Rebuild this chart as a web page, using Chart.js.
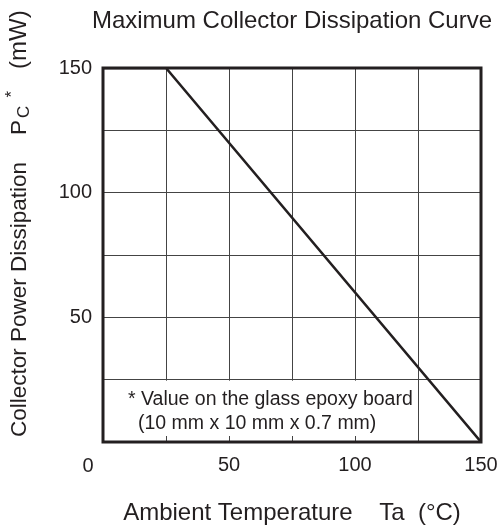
<!DOCTYPE html>
<html><head><meta charset="utf-8">
<script src="https://cdn.jsdelivr.net/npm/chart.js@4/dist/chart.umd.min.js"></script>
<style>html,body{margin:0;padding:0;background:#fff}#wrap{width:500px;height:530px}</style>
</head><body><div id="wrap"><canvas id="c" width="500" height="530"></canvas></div>
<script>
// ---- data ----
const temperature = [0, 25, 150];
const dissipation = [150, 150, 0];
const xTickLabels = [50, 100, 150];
const yTickLabels = [50, 100, 150];
const cornerLabel = '0';
const chartTitle = 'Maximum Collector Dissipation Curve';
const xTitle = 'Ambient Temperature    Ta  (°C)';
const yTitleMain = 'Collector Power Dissipation';
const yTitleSym = 'P';
const yTitleSub = 'C';
const yTitleSup = '*';
const yTitleUnit = '(mW)';
const noteLines = ['* Value on the glass epoxy board', '(10 mm x 10 mm x 0.7 mm)'];
const noteBoxX = 125, noteBoxY = 25;
const minorTicks = [25, 50, 75, 100];

const FONT = '"Liberation Sans", Arial, Helvetica, sans-serif';
const INK = '#231f20';

const deco = {
  id: 'deco',
  beforeDatasetsDraw(chart) {
    const {ctx, chartArea: a, scales: {x, y}} = chart;
    const bx = x.getPixelForValue(noteBoxX), by = y.getPixelForValue(noteBoxY);
    ctx.save();
    ctx.fillStyle = '#fff';
    ctx.fillRect(a.left, by + 1, bx - a.left - 1, a.bottom - by - 1);
    ctx.strokeStyle = '#444';
    ctx.lineWidth = 1;
    ctx.beginPath();
    minorTicks.forEach(v => {
      const px = Math.round(x.getPixelForValue(v)) + 0.5;
      ctx.moveTo(px, a.bottom);
      ctx.lineTo(px, a.bottom - 6);
    });
    ctx.stroke();
    ctx.fillStyle = INK;
    ctx.font = '19.5px ' + FONT;
    ctx.textBaseline = 'alphabetic';
    ctx.textAlign = 'left';
    ctx.fillText(noteLines[0], 128, 405);
    ctx.fillText(noteLines[1], 138, 429);
    ctx.restore();
  },
  afterDatasetsDraw(chart) {
    const {ctx, chartArea: a} = chart;
    ctx.save();
    ctx.strokeStyle = INK;
    ctx.lineWidth = 3;
    ctx.strokeRect(a.left, a.top, a.right - a.left, a.bottom - a.top);
    ctx.restore();
  },
  afterDraw(chart) {
    const {ctx} = chart;
    ctx.save();
    ctx.fillStyle = INK;
    ctx.textBaseline = 'alphabetic';
    ctx.textAlign = 'center';
    ctx.font = '24px ' + FONT;
    ctx.fillText(chartTitle, 292, 28);
    ctx.font = '24px ' + FONT;
    ctx.fillText(xTitle, 292, 520);
    ctx.font = '20px ' + FONT;
    ctx.fillText(cornerLabel, 88, 472);
    // y title, rotated, with subscript / superscript
    ctx.translate(26, 437);
    ctx.rotate(-Math.PI / 2);
    ctx.textAlign = 'left';
    const big = '22.5px ' + FONT, small = '17px ' + FONT;
    let cx = 0;
    ctx.font = big;
    ctx.fillText(yTitleMain, cx, 0); cx += ctx.measureText(yTitleMain).width + 27;
    ctx.fillText(yTitleSym, cx, 0); cx += ctx.measureText(yTitleSym).width + 2;
    ctx.font = small;
    ctx.fillText(yTitleSub, cx, 3); cx += ctx.measureText(yTitleSub).width + 8;
    ctx.fillText(yTitleSup, cx, -9); cx += ctx.measureText(yTitleSup).width + 22;
    ctx.font = '24px ' + FONT;
    ctx.fillText(yTitleUnit, cx, 0);
    ctx.restore();
  }
};

new Chart(document.getElementById('c'), {
  type: 'line',
  data: {
    datasets: [{
      data: temperature.map((t, i) => ({x: t, y: dissipation[i]})),
      borderColor: INK,
      borderWidth: 2.5,
      pointRadius: 0,
      fill: false,
      tension: 0
    }]
  },
  options: {
    responsive: false,
    animation: false,
    devicePixelRatio: 1,
    layout: {padding: {top: 68, right: 19, left: 0, bottom: 0}},
    plugins: {legend: {display: false}, tooltip: {enabled: false}, title: {display: false}},
    scales: {
      x: {
        type: 'linear', min: 0, max: 150,
        afterFit(s) { s.height = 88; s.paddingRight = 0; s.paddingLeft = 0; },
        border: {display: false},
        grid: {color: '#444', lineWidth: 1, drawTicks: false},
        ticks: {
          stepSize: 25, padding: 11, color: INK, maxRotation: 0, autoSkip: false,
          font: {family: FONT, size: 20},
          callback: v => xTickLabels.includes(v) ? String(v) : ''
        }
      },
      y: {
        type: 'linear', min: 0, max: 150,
        afterFit(s) { s.width = 103; s.paddingTop = 0; s.paddingBottom = 0; },
        border: {display: false},
        grid: {color: '#444', lineWidth: 1, drawTicks: false},
        ticks: {
          stepSize: 25, padding: 11, color: INK, autoSkip: false,
          font: {family: FONT, size: 20},
          callback: v => yTickLabels.includes(v) ? String(v) : ''
        }
      }
    }
  },
  plugins: [deco]
});
</script>
</body></html>
